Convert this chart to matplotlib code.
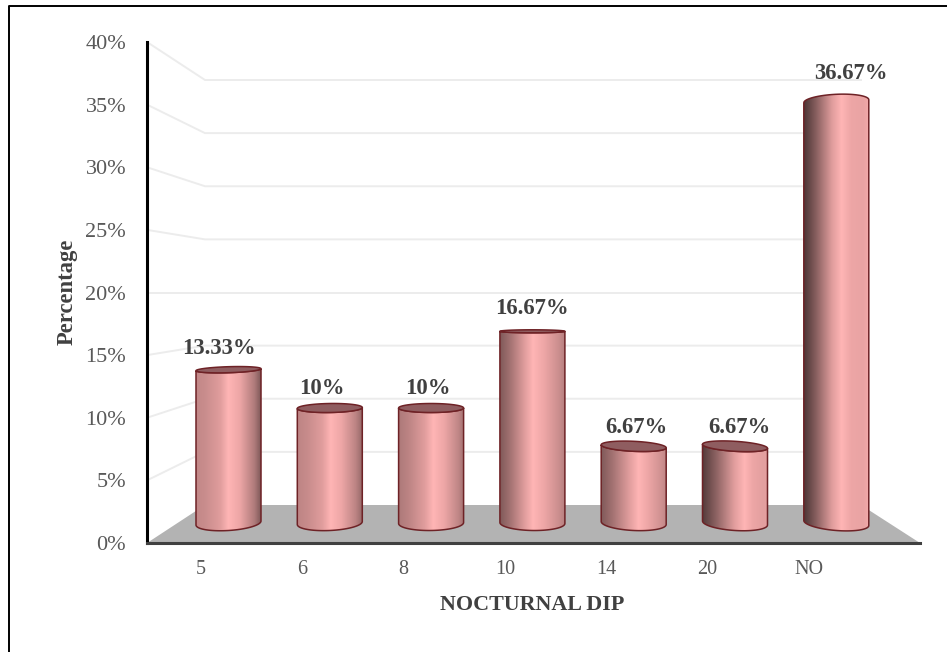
import numpy as np
import matplotlib
matplotlib.use('Agg')
import matplotlib.pyplot as plt

from matplotlib.colors import LinearSegmentedColormap
from matplotlib.lines import Line2D
from matplotlib.patches import PathPatch, Polygon
from matplotlib.path import Path

categories = ['5', '6', '8', '10', '14', '20', 'NO']
values = [13.33, 10, 10, 16.67, 6.67, 6.67, 36.67]
value_labels = ['13.33%', '10%', '10%', '16.67%', '6.67%', '6.67%', '36.67%']
y_ticks = [0, 5, 10, 15, 20, 25, 30, 35, 40]

# shading of each cylinder: brightness at left/right edge, where the highlight sits
left_shade = [0.76, 0.74, 0.68, 0.50, 0.50, 0.34, 0.30]
right_shade = [0.50, 0.60, 0.62, 0.70, 0.76, 0.90, 0.95]
peak_pos = [0.50, 0.52, 0.52, 0.50, 0.58, 0.64, 0.58]
# top ellipse half height (px, negative = seen from below) and tilt (px)
top_h = [3.0, 4.5, 4.5, 1.5, 5.0, 5.0, -7.0]
top_tilt = [-1.0, -0.5, 0, 0, 1.5, 2.0, -1.5]
base_tilt = [-2.0, -1.5, -0.5, 0.5, 1.5, 2.0, 2.5]
label_dx = [-10, -8, -3, 0, 3, 4, 15]
label_dy = [21, 19, 19, 23, 19, 19, 28]

FIG_W, FIG_H = 947, 652
AX_L, AX_R, AX_T, AX_B = 147, 920, 42, 543
PX_CAT = 101.3     # px per category
PX_VAL = 12.525    # px per percent on the front plane
FIRST_TICK = 201

BACK_L, BACK_R = 205, 861
BACK_BASE = 505
BACK_SCALE = 10.625
BAR_SHIFT = 27.5
BAR_HALF = 32.5
BAR_BASE = 523
BAR_SCALE = 11.5
BASE_H = 7.5

BODY = np.array([1.0, 0.70, 0.70])
PEAK = np.array([1.0, 0.71, 0.71])
SERIF = 'Liberation Serif'


def xval(px):
    return (px - FIRST_TICK) / PX_CAT


def yval(px):
    return (AX_B - px) / PX_VAL


def shade_map(i):
    # dark edge fades out over the outer part of the body
    p = peak_pos[i]
    left = BODY * left_shade[i]
    right = BODY * right_shade[i]
    near_left = left + (BODY * 0.84 - left) * 0.4
    near_right = right + (BODY * 0.88 - right) * 0.5
    return LinearSegmentedColormap.from_list('cyl', [
        (0.0, left),
        (p * 0.3, near_left),
        (p * 0.75, BODY * 0.88),
        (p, PEAK),
        (p + (1 - p) * 0.35, BODY * 0.93),
        (p + (1 - p) * 0.8, near_right),
        (1.0, right),
    ])


def draw_cylinder(ax, i, v):
    cx = FIRST_TICK + PX_CAT * i + BAR_SHIFT
    y_top = BAR_BASE - BAR_SCALE * v
    h, tt, bt = top_h[i], top_tilt[i], base_tilt[i]

    t = np.linspace(np.pi, 0, 50)
    top_x = cx + BAR_HALF * np.cos(t)
    top_y = y_top + h * np.sin(t) + tt * np.cos(t)
    bot_t = np.linspace(0, -np.pi, 50)
    bot_x = cx + BAR_HALF * np.cos(bot_t)
    bot_y = BAR_BASE - BASE_H * np.sin(bot_t) + bt * np.cos(bot_t)

    xs = np.concatenate([top_x, bot_x])
    ys = np.concatenate([top_y, bot_y])
    verts = np.column_stack([xval(xs), yval(ys)])
    verts = np.vstack([verts, verts[0]])
    body = PathPatch(Path(verts), fc='none', ec='#6e2226', lw=1.1, zorder=4)
    ax.add_patch(body)

    grad = np.linspace(0, 1, 256).reshape(1, -1)
    im = ax.imshow(grad, cmap=shade_map(i), aspect='auto', zorder=3, vmin=0, vmax=1,
                   extent=[xval(cx - BAR_HALF), xval(cx + BAR_HALF),
                           yval(BAR_BASE + 12), yval(y_top - 10)])
    im.set_clip_path(PathPatch(Path(verts), transform=ax.transData))

    # visible top face
    if h > 0:
        t = np.linspace(0, 2 * np.pi, 80)
        fx = cx + BAR_HALF * np.cos(t)
        fy = y_top + h * np.sin(t) + tt * np.cos(t)
        ax.add_patch(Polygon(np.column_stack([xval(fx), yval(fy)]), closed=True,
                             fc='#8f5d60', ec='#6e2226', lw=1.1, zorder=5))

    ax.annotate(value_labels[i], (xval(cx), yval(y_top)),
                xytext=(label_dx[i] * 0.72, label_dy[i] * 0.72),
                textcoords='offset points', ha='center', va='center',
                family=SERIF, fontsize=16.4, fontweight='bold',
                color='#404040', zorder=6)


fig = plt.figure(figsize=(FIG_W / 100, FIG_H / 100), dpi=100, facecolor='white')
ax = fig.add_axes([AX_L / FIG_W, 1 - AX_B / FIG_H,
                   (AX_R - AX_L) / FIG_W, (AX_B - AX_T) / FIG_H])

# outer frame, only the top and left edges fall on the canvas
fig.add_artist(Line2D([9 / FIG_W, 9 / FIG_W, 1], [0, 1 - 6 / FIG_H, 1 - 6 / FIG_H],
                      color='#000000', lw=1.4))

# back wall gridlines
for v in y_ticks[1:]:
    y_back = BACK_BASE - BACK_SCALE * v
    ax.plot([xval(AX_L), xval(BACK_L), xval(BACK_R)],
            [v, yval(y_back), yval(y_back)],
            color='#ececec', lw=1.4, zorder=1, solid_joinstyle='miter')

# floor
floor = [(AX_L, AX_B), (AX_R, AX_B), (BACK_R, BACK_BASE), (BACK_L, BACK_BASE)]
ax.add_patch(Polygon([(xval(x), yval(y)) for x, y in floor], closed=True,
                     fc='#b3b3b3', ec='none', zorder=2))

for i, v in enumerate(values):
    draw_cylinder(ax, i, v)

ax.set_xlim(xval(AX_L), xval(AX_R))
ax.set_ylim(0, 40)
ax.patch.set_visible(False)

ax.set_xticks(range(len(categories)))
ax.set_xticklabels(categories, family=SERIF, fontsize=14.5, color='#595959')
ax.set_yticks(y_ticks)
ax.set_yticklabels([f'{v}%' for v in y_ticks], family=SERIF, fontsize=16, color='#595959')
ax.tick_params(axis='both', length=0)
ax.tick_params(axis='y', pad=15)
ax.tick_params(axis='x', pad=12)

for name in ['top', 'right']:
    ax.spines[name].set_visible(False)
ax.spines['left'].set_linewidth(2.2)
ax.spines['left'].set_color('#000000')
ax.spines['bottom'].set_linewidth(2.2)
ax.spines['bottom'].set_color('#404040')

fig.text(532 / FIG_W, 1 - 605 / FIG_H, 'NOCTURNAL DIP', ha='center', va='center',
         family=SERIF, fontsize=15.8, fontweight='bold', color='#404040')
fig.text(67 / FIG_W, 1 - 292 / FIG_H, 'Percentage', ha='center', va='center', rotation=90,
         family=SERIF, fontsize=16.3, fontweight='bold', color='#404040')

fig.savefig('out.png', dpi=100)
